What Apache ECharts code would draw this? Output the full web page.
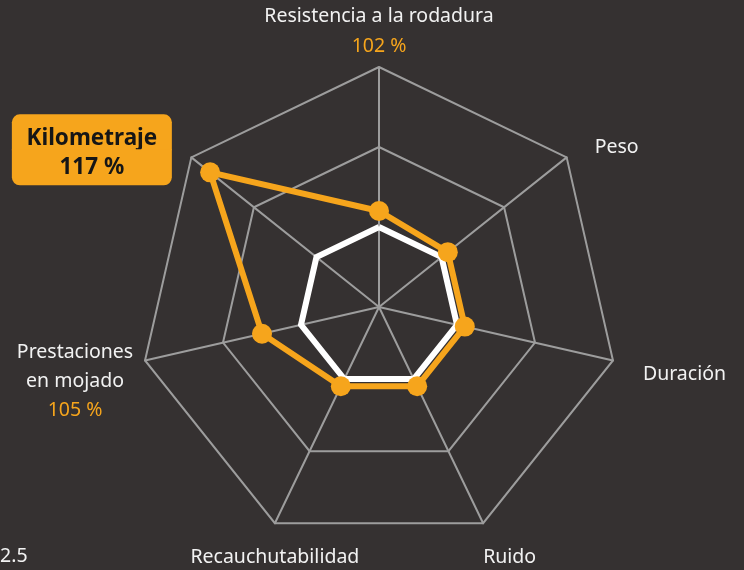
<!DOCTYPE html>
<html>
<head>
<meta charset="utf-8">
<script src="https://cdn.jsdelivr.net/npm/echarts@6/dist/echarts.min.js"></script>
<style>
  html, body { margin: 0; padding: 0; background: #353131; }
  #chart { width: 744px; height: 570px; }
</style>
</head>
<body>
<div id="chart"></div>
<script>
// axes from the top; echarts lays radar axes out counter-clockwise,
// so this reads top, then round the left side
const categories = ['Resistencia a la rodadura', 'Kilometraje', 'Prestaciones en mojado', 'Recauchutabilidad', 'Ruido', 'Duración', 'Peso'];
const referenceValues = [100, 100, 100, 100, 100, 100, 100];
const tireValues = [102, 117, 105, 101, 101, 101, 101];
const axisMin = 90;
const axisMax = 120;

const orange = '#f6a51c';
const textColor = '#f2f2f2';
const gridColor = '#9d9d9d';

function axisLabel(name) {
    const pct = tireValues[categories.indexOf(name)] + ' %';
    switch (name) {
        case 'Resistencia a la rodadura': return '{top|' + name + '}\n{topVal|' + pct + '}';
        case 'Peso': return '{peso|' + name + '}';
        case 'Duración': return '{dur|' + name + '}';
        case 'Ruido': return '{ruido|' + name + '}';
        case 'Recauchutabilidad': return '{recau|' + name + '}';
        case 'Prestaciones en mojado': return '{p1|Prestaciones}\n{p2|en mojado}\n{p3|' + pct + '}';
        case 'Kilometraje': return '{km1|' + name + '}{gap| }\n{km2|' + pct + '}{gap| }\n{gapV| }';
    }
    return name;
}

const base = { fontSize: 19.5, fontFamily: 'Noto Sans', color: textColor, align: 'center' };
const kmBox = {
    width: 160, backgroundColor: orange, color: '#161616', fontWeight: 'bold',
    fontSize: 22.5, fontFamily: 'Noto Sans', lineHeight: 35, align: 'center'
};

const chart = echarts.init(document.getElementById('chart'));
chart.setOption({
    backgroundColor: '#353131',
    animation: false,
    radar: {
        center: [379, 307],
        radius: 240,
        startAngle: 90,
        shape: 'polygon',
        splitNumber: 3,
        axisNameGap: 0,
        indicator: categories.map(function (c) {
            return { name: c, min: axisMin, max: axisMax };
        }),
        axisName: {
            color: textColor,
            fontSize: 19.5,
            fontFamily: 'Noto Sans',
            align: 'center',
            verticalAlign: 'middle',
            formatter: axisLabel,
            rich: {
                top: Object.assign({}, base, { lineHeight: 30, padding: [0, 0, 72, 0] }),
                topVal: Object.assign({}, base, { lineHeight: 30, color: orange, padding: [0, 0, 72, 0] }),
                peso: Object.assign({}, base, { padding: [0, 0, 20, 100] }),
                dur: Object.assign({}, base, { padding: [29, 0, 0, 143] }),
                ruido: Object.assign({}, base, { padding: [69, 0, 0, 53] }),
                recau: Object.assign({}, base, { padding: [69, 0, 0, 0] }),
                p1: Object.assign({}, base, { lineHeight: 29, padding: [42, 140, 0, 0] }),
                p2: Object.assign({}, base, { lineHeight: 29, padding: [42, 140, 0, 0] }),
                p3: Object.assign({}, base, { lineHeight: 29, color: orange, padding: [42, 140, 0, 0] }),
                km1: Object.assign({}, kmBox, { borderRadius: [8, 8, 0, 0], padding: [12.5, 0, 0.5, 0] }),
                km2: Object.assign({}, kmBox, { borderRadius: [0, 0, 8, 8], padding: [6.5, 0, 6.5, 0] }),
                gap: { width: 199, lineHeight: 20, fontSize: 10 },
                gapV: { lineHeight: 15, fontSize: 10 }
            }
        },
        axisLine: { lineStyle: { color: gridColor, width: 2 } },
        splitLine: { lineStyle: { color: gridColor, width: 2 } },
        splitArea: { show: false }
    },
    series: [{
        type: 'radar',
        silent: true,
        data: [
            {
                value: referenceValues,
                symbol: 'none',
                lineStyle: { color: '#ffffff', width: 6, join: 'miter' }
            },
            {
                value: tireValues,
                symbol: 'circle',
                symbolSize: 20,
                itemStyle: { color: orange },
                lineStyle: { color: orange, width: 6, join: 'miter' }
            }
        ]
    }],
    graphic: [{
        type: 'text',
        left: 0,
        top: 546,
        style: { text: '2.5', fill: textColor, font: '19.5px "Noto Sans"' }
    }]
});
</script>
</body>
</html>
